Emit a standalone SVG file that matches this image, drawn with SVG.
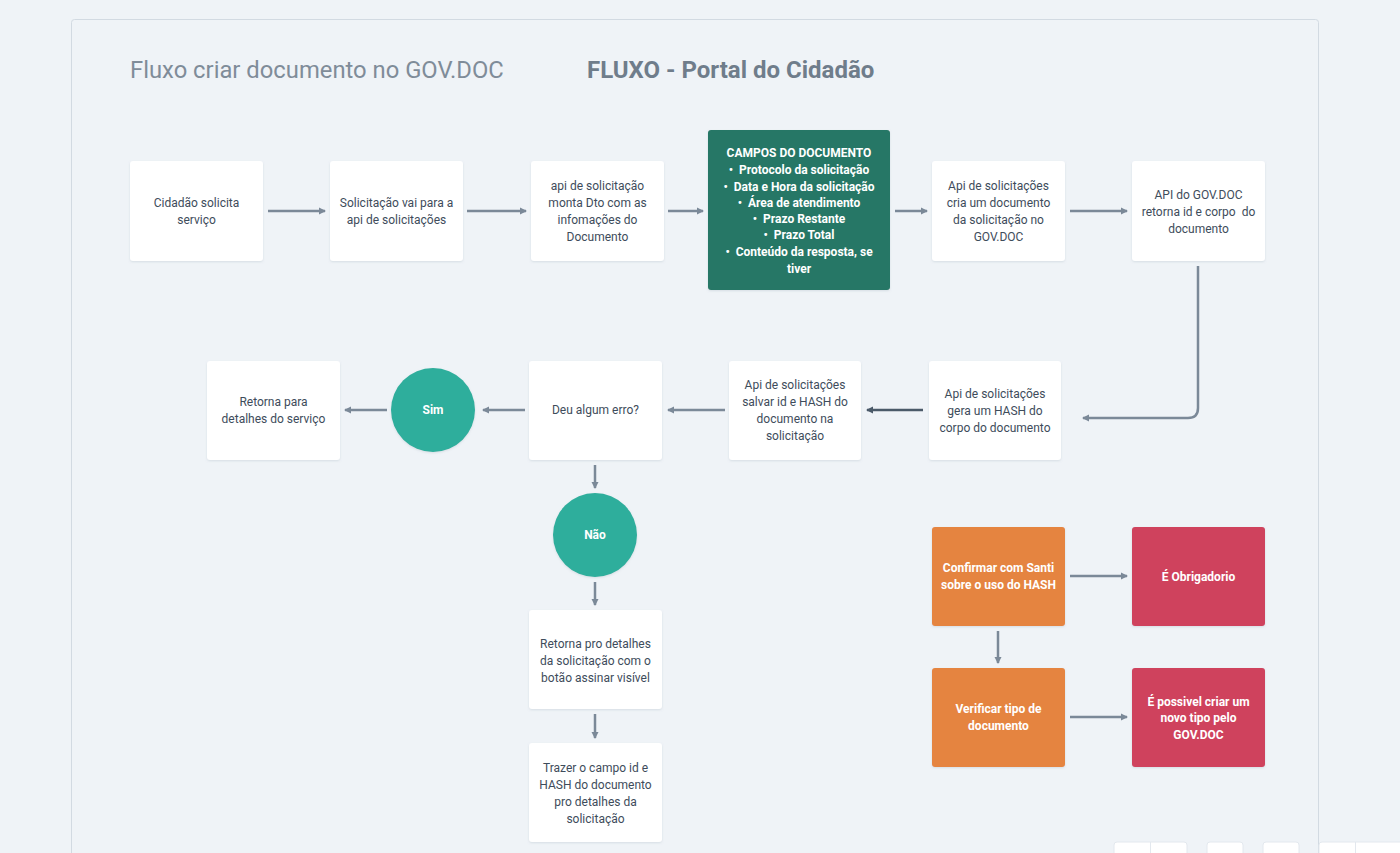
<svg xmlns="http://www.w3.org/2000/svg" width="1400" height="853" viewBox="0 0 1400 853">
<style>
.t{font-family:Roboto,"Liberation Sans",sans-serif;font-size:12px;fill:#3e4c5b;text-anchor:middle;white-space:pre}
.w{font-family:Roboto,"Liberation Sans",sans-serif;font-size:12px;fill:#ffffff;font-weight:bold;text-anchor:middle;white-space:pre}
.box{fill:#ffffff;filter:url(#sh)}
.c{stroke:#7b8998;stroke-width:2.5;fill:none;marker-end:url(#ah)}
.cd{stroke:#4b5a69;stroke-width:2.5;fill:none;marker-end:url(#ahd)}
.ui{fill:#ffffff;stroke:#e3e8ee}
</style>
<defs>
<filter id="sh" x="-10%" y="-10%" width="120%" height="130%"><feDropShadow dx="0" dy="1" stdDeviation="1" flood-color="#8a9aab" flood-opacity="0.25"/></filter>
<marker id="ah" markerWidth="8" markerHeight="8" refX="6" refY="4" orient="auto" markerUnits="userSpaceOnUse"><path d="M0,0.5 L7,4 L0,7.5 Z" fill="#7b8998"/></marker>
<marker id="ahd" markerWidth="8" markerHeight="8" refX="6" refY="4" orient="auto" markerUnits="userSpaceOnUse"><path d="M0,0.5 L7,4 L0,7.5 Z" fill="#4b5a69"/></marker>
</defs>
<rect x="0" y="0" width="1400" height="853" fill="#eff3f7"/>
<rect x="71.5" y="19.5" width="1247" height="860" rx="3" fill="#eff3f7" stroke="#d2dae2"/>
<g id="titles">
<text x="130" y="78" style="font-family:Roboto,'Liberation Sans',sans-serif;font-size:23.8px;fill:#7f8c99">Fluxo criar documento no GOV.DOC</text>
<text x="587" y="78" style="font-family:Roboto,'Liberation Sans',sans-serif;font-size:24px;font-weight:bold;fill:#6f7d8b">FLUXO - Portal do Cidadão</text>
</g>
<g id="connectors">
<line class="c" x1="268" y1="211" x2="325" y2="211"/>
<line class="c" x1="467" y1="211" x2="526" y2="211"/>
<line class="c" x1="668" y1="211" x2="703" y2="211"/>
<line class="c" x1="895" y1="211" x2="927" y2="211"/>
<line class="c" x1="1070" y1="211" x2="1127" y2="211"/>
<path class="c" d="M1198,266 L1198,408 Q1198,418 1188,418 L1083,418"/>
<line class="cd" x1="923" y1="410" x2="867" y2="410"/>
<line class="c" x1="725" y1="410" x2="668" y2="410"/>
<line class="c" x1="525" y1="410" x2="483" y2="410"/>
<line class="c" x1="387" y1="410" x2="345" y2="410"/>
<line class="c" x1="595" y1="465" x2="595" y2="488"/>
<line class="c" x1="595" y1="582" x2="595" y2="605"/>
<line class="c" x1="595" y1="714" x2="595" y2="738"/>
<line class="c" x1="1070" y1="576" x2="1127" y2="576"/>
<line class="c" x1="998" y1="631" x2="998" y2="663"/>
<line class="c" x1="1070" y1="717" x2="1127" y2="717"/>
</g>
<g id="n1"><rect class="box" x="130" y="161" width="133" height="100" rx="3"/>
<text class="t" x="196.5" y="207">Cidadão solicita</text><text class="t" x="196.5" y="224">serviço</text></g>
<g id="n2"><rect class="box" x="330" y="161" width="133" height="100" rx="3"/>
<text class="t" x="396.5" y="207">Solicitação vai para a</text><text class="t" x="396.5" y="224">api de solicitações</text></g>
<g id="n3"><rect class="box" x="531" y="161" width="133" height="100" rx="3"/>
<text class="t" x="597.5" y="190">api de solicitação</text><text class="t" x="597.5" y="207">monta Dto com as</text><text class="t" x="597.5" y="224">infomações do</text><text class="t" x="597.5" y="241">Documento</text></g>
<g id="campos"><rect x="708" y="130" width="182" height="160" rx="3" fill="#267766" filter="url(#sh)"/>
<text class="w" x="799" y="157">CAMPOS DO DOCUMENTO</text>
<text class="w" x="799" y="174">•  Protocolo da solicitação</text>
<text class="w" x="799" y="191">•  Data e Hora da solicitação</text>
<text class="w" x="799" y="207">•  Área de atendimento</text>
<text class="w" x="799" y="223">•  Prazo Restante</text>
<text class="w" x="799" y="239">•  Prazo Total</text>
<text class="w" x="799" y="256">•  Conteúdo da resposta, se</text>
<text class="w" x="799" y="273">tiver</text></g>
<g id="n5"><rect class="box" x="932" y="161" width="133" height="100" rx="3"/>
<text class="t" x="998.5" y="190">Api de solicitações</text><text class="t" x="998.5" y="207">cria um documento</text><text class="t" x="998.5" y="224">da solicitação no</text><text class="t" x="998.5" y="241">GOV.DOC</text></g>
<g id="n6"><rect class="box" x="1132" y="161" width="133" height="100" rx="3"/>
<text class="t" x="1198.5" y="199">API do GOV.DOC</text><text class="t" x="1198.5" y="216">retorna id e corpo  do</text><text class="t" x="1198.5" y="233">documento</text></g>
<g id="n7"><rect class="box" x="929" y="361" width="132" height="99" rx="3"/>
<text class="t" x="995" y="398">Api de solicitações</text><text class="t" x="995" y="415">gera um HASH do</text><text class="t" x="995" y="432">corpo do documento</text></g>
<g id="n8"><rect class="box" x="729" y="361" width="132" height="99" rx="3"/>
<text class="t" x="795" y="389">Api de solicitações</text><text class="t" x="795" y="406">salvar id e HASH do</text><text class="t" x="795" y="423">documento na</text><text class="t" x="795" y="440">solicitação</text></g>
<g id="n9"><rect class="box" x="529" y="361" width="133" height="99" rx="3"/>
<text class="t" x="595.5" y="414">Deu algum erro?</text></g>
<g id="sim"><circle cx="433" cy="410" r="42" fill="#2eae9c" filter="url(#sh)"/>
<text class="w" x="433" y="414">Sim</text></g>
<g id="n10"><rect class="box" x="207" y="361" width="133" height="99" rx="3"/>
<text class="t" x="273.5" y="406">Retorna para</text><text class="t" x="273.5" y="423">detalhes do serviço</text></g>
<g id="nao"><circle cx="595" cy="535" r="42" fill="#2eae9c" filter="url(#sh)"/>
<text class="w" x="595" y="539">Não</text></g>
<g id="n11"><rect class="box" x="529" y="610" width="133" height="99" rx="3"/>
<text class="t" x="595.5" y="648">Retorna pro detalhes</text><text class="t" x="595.5" y="665">da solicitação com o</text><text class="t" x="595.5" y="682">botão assinar visível</text></g>
<g id="n12"><rect class="box" x="529" y="743" width="133" height="99" rx="3"/>
<text class="t" x="595.5" y="772">Trazer o campo id e</text><text class="t" x="595.5" y="789">HASH do documento</text><text class="t" x="595.5" y="806">pro detalhes da</text><text class="t" x="595.5" y="823">solicitação</text></g>
<g id="o1"><rect x="932" y="527" width="133" height="99" rx="3" fill="#e5843f" filter="url(#sh)"/>
<text class="w" x="998.5" y="572">Confirmar com Santi</text><text class="w" x="998.5" y="589">sobre o uso do HASH</text></g>
<g id="o2"><rect x="932" y="668" width="133" height="99" rx="3" fill="#e5843f" filter="url(#sh)"/>
<text class="w" x="998.5" y="713">Verificar tipo de</text><text class="w" x="998.5" y="730">documento</text></g>
<g id="r1"><rect x="1132" y="527" width="133" height="99" rx="3" fill="#cf435d" filter="url(#sh)"/>
<text class="w" x="1198.5" y="581">É Obrigadorio</text></g>
<g id="r2"><rect x="1132" y="668" width="133" height="99" rx="3" fill="#cf435d" filter="url(#sh)"/>
<text class="w" x="1198.5" y="706">É possivel criar um</text><text class="w" x="1198.5" y="722">novo tipo pelo</text><text class="w" x="1198.5" y="739">GOV.DOC</text></g>
<g id="ui">
<rect class="ui" x="1114" y="842" width="73" height="20" rx="3"/><line x1="1150.5" y1="842" x2="1150.5" y2="853" stroke="#e3e8ee"/>
<rect class="ui" x="1207" y="842" width="36" height="20" rx="3"/>
<rect class="ui" x="1263" y="842" width="36" height="20" rx="3"/>
<rect class="ui" x="1319" y="842" width="90" height="20" rx="3"/><line x1="1355.5" y1="842" x2="1355.5" y2="853" stroke="#e3e8ee"/>
</g>
</svg>
